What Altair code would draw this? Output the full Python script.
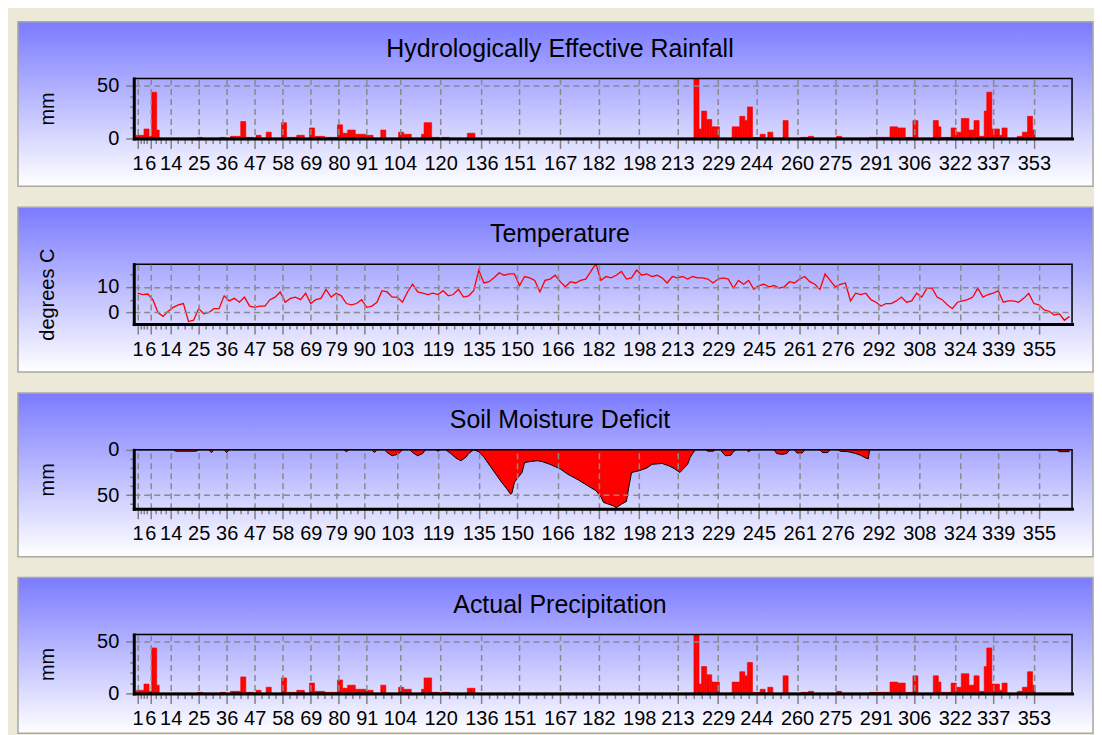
import altair as alt
import pandas as pd

FONT = "Liberation Sans"

# ---------------- data ----------------
rain_days = [1, 2, 3, 4, 5, 6, 7, 8, 9,
             25, 26, 34, 35,
             38, 39, 40, 41, 42, 43, 44, 45, 46, 48, 49,
             52, 53, 58, 59, 60, 61, 62, 63, 64, 65, 66, 69, 70,
             71, 72, 73, 74, 75, 76, 77, 78, 79, 80, 81, 82, 83, 84, 85, 86,
             87, 88, 89, 90, 91, 92, 93, 97, 98,
             104, 105, 106, 107, 108, 113, 114, 115, 116, 117, 118, 119, 121, 122, 123,
             131, 132, 133,
             220, 221, 222, 223, 224, 225, 226, 227, 228, 229,
             235, 236, 237, 238, 239, 240, 241, 242, 243, 244, 245, 246, 247, 249, 250,
             255, 256, 262, 263, 264, 265, 266, 276, 277,
             289, 290, 291, 292, 293, 294, 295, 296,
             297, 298, 299, 300, 301, 302, 303, 304, 305, 306, 307,
             314, 315, 316, 317, 318, 319, 320, 321, 322, 323, 324, 325, 326, 327, 328,
             329, 330, 331, 332, 333, 334, 335, 336, 337, 338, 339, 340, 341, 342,
             347, 348, 349, 350, 351, 352, 353]
rain_values = [3, 3, 3, 9, 9, 2, 44, 44, 8,
               1, 1, 1, 1,
               2, 2, 2, 2, 16, 16, 1, 1, 1, 3, 3,
               6, 6, 15, 15, 1, 1, 1, 1, 3, 3, 3, 10, 10,
               2, 2, 2, 2, 1, 1, 1, 1, 1, 13, 13, 5, 5, 8, 8, 8,
               4, 4, 4, 4, 3, 3, 3, 8, 8,
               6, 6, 4, 4, 4, 4, 15, 15, 15, 1, 1, 1, 1, 1, 1,
               5, 5, 5,
               60, 60, 9, 26, 26, 18, 18, 11, 11, 11,
               11, 11, 11, 21, 21, 17, 30, 30, 1, 1, 1, 4, 4, 6, 6,
               17, 17, 1, 1, 1, 2, 2, 2, 2,
               1, 1, 1, 1, 1, 1, 1, 1,
               11, 11, 11, 10, 10, 10, 1, 1, 1, 17, 17,
               17, 17, 11, 1, 1, 1, 1, 10, 10, 6, 6, 19, 19, 19, 8,
               8, 17, 17, 2, 2, 26, 44, 44, 9, 9, 9, 3, 10, 10,
               2, 2, 6, 6, 21, 21, 8]

# Actual precipitation reads identical to the effective rainfall
precip_days = list(rain_days)
precip_values = list(rain_values)

temp_days = list(range(1, 368, 2))
temp_values = [7.5, 7, 7.2, 5, 0, -1.5, 0.5, 2, 3, 3.5, -3.5, -3, 1.5, -0.5, 0, 1.5, 1.5,
               6.5, 4.5, 5.5, 4, 6, 2.5, 2, 2.5, 2.5, 5, 6, 8, 4, 5.5, 6, 5, 7.5, 3.5,
               5, 5.5, 9, 6, 7.5, 6.5, 3.5, 3, 3.5, 5, 2, 2.5, 4, 8.5, 8, 6, 6, 4, 8,
               11, 8, 7.5, 7, 7.5, 7, 8.5, 6.5, 7, 9, 6, 6.5, 8.5, 16.5, 11.5, 12,
               13.5, 15.5, 14.5, 15, 15, 10.5, 14, 13.5, 12.5, 8, 12.5, 13, 14.5, 12,
               10, 12, 11.5, 12.5, 13, 16, 19, 12.5, 14, 13.5, 14.5, 16, 13, 13.5,
               16.5, 14.5, 15, 14, 14.5, 13.5, 11.5, 14, 13.5, 14, 13, 14, 13.5, 13.5,
               13, 11.5, 13, 13.5, 13, 9.5, 12.5, 11, 12.5, 9, 10.5, 11, 10, 10.5, 9.5,
               10, 12, 11.5, 13, 14, 12, 11, 9, 15, 12.5, 10, 11, 11.5, 4.5, 7.5, 7,
               7.5, 5, 4, 2.5, 3.5, 3.5, 4.5, 6, 4, 4.5, 7.5, 6, 9.5, 9.5, 6, 5, 3,
               1.5, 4, 4.5, 5, 6, 9.5, 6, 7, 7.5, 8.5, 4, 4.5, 4.5, 4, 5.5, 7.5, 3.5,
               3, 1, 0.5, -1, -0.5, -3, -1.5]

smd_days = [1, 15, 16, 24, 25, 29, 30, 31, 35, 36, 37,
            82, 83, 84, 93, 94, 95,
            98, 99, 101, 103, 104, 105,
            108, 109, 111, 113, 114,
            118, 119, 120,
            122, 124, 126, 128, 130, 131, 133,
            135, 137, 140, 142, 144, 146, 147.5, 148, 149, 150, 152, 153, 155, 158,
            160, 163, 167, 170, 174, 178, 181, 183, 184, 186, 188, 189, 190, 191,
            193, 194, 195, 198, 201, 203, 207, 210, 212, 214, 215, 217, 218, 219, 220,
            224, 225, 227, 228, 230, 231, 232, 234, 235, 236,
            240, 241, 242, 251, 252, 254, 256, 257, 259, 260, 262, 263,
            269, 270, 272, 273, 276, 277, 280, 283, 285, 287, 288, 288.5,
            362, 363, 367]
smd_values = [0, 0, 1.5, 1.5, 0, 0, 3, 0, 0, 3, 0,
              0, 2, 0, 0, 3, 0,
              0, 3, 6.5, 5, 3, 0,
              0, 3, 6.5, 4, 0,
              0, 1.5, 0,
              0, 4, 9, 12, 8, 4, 0,
              2, 8, 20, 28, 36, 43, 49, 48, 36, 32, 25, 14, 13, 12,
              13, 16, 21, 27, 33, 40, 45, 52, 58, 60, 62, 64, 62, 60,
              57, 40, 25, 23, 20, 16, 15, 18, 21, 25, 22, 16, 8.5, 4, 0,
              0, 1.5, 1.5, 0, 0, 4, 6.5, 6, 2, 0,
              0, 2, 0, 0, 4, 5, 4, 0, 0, 3.5, 3.5, 0,
              0, 3, 3, 0, 0, 1.5, 2, 4, 6, 9, 10, 0,
              0, 2, 2]

rain_ticks = [1, 6, 14, 25, 36, 47, 58, 69, 80, 91, 104, 120, 136, 151, 167, 182,
              198, 213, 229, 244, 260, 275, 291, 306, 322, 337, 353]
temp_ticks = [1, 6, 14, 25, 36, 47, 58, 69, 79, 90, 103, 119, 135, 150, 166, 182,
              198, 213, 229, 245, 261, 276, 292, 308, 324, 339, 355]

titles = ["Hydrologically Effective Rainfall", "Temperature",
          "Soil Moisture Deficit", "Actual Precipitation"]

# ---------------- layout ----------------
W = 940
X_DOMAIN = [-0.5, 368]
GRAD = alt.LinearGradient(gradient="linear", x1=0, x2=0, y1=0, y2=1,
                          stops=[alt.GradientStop(color="#7b7bff", offset=0),
                                 alt.GradientStop(color="#ffffff", offset=1)])
bgdf = pd.DataFrame({"k": [0]})


def minor_ticks(majors):
    vals = []
    for a, b in zip(majors[:-1], majors[1:]):
        n = 4 if b - a < 14 else 5
        vals += [a + (b - a) * k / n for k in range(1, n)]
    return vals


def arr(v):
    return "[" + ",".join(str(x) for x in v) + "]"


def x_axis(majors):
    test = f"indexof({arr(majors)}, datum.value) >= 0"
    return alt.Axis(values=majors + minor_ticks(majors),
                    labelExpr=f"{test} ? datum.label : ''",
                    tickSize={"condition": {"test": test, "value": 10}, "value": 5},
                    gridOpacity={"condition": {"test": test, "value": 1}, "value": 0},
                    grid=True, labelPadding=5, zindex=1)


def y_axis(values, labels, grids, title, h):
    lt = f"indexof({arr(labels)}, datum.value) >= 0"
    gt = f"indexof({arr(grids)}, datum.value) >= 0"
    return alt.Axis(values=values, labelExpr=f"{lt} ? datum.label : ''",
                    tickSize={"condition": {"test": lt, "value": 8}, "value": 4},
                    gridOpacity={"condition": {"test": gt, "value": 1}, "value": 0},
                    grid=True, labelPadding=7, zindex=1,
                    title=title, titleX=-86, titleY=h / 2, titleAngle=270,
                    titleAlign="center", titleBaseline="middle")


def panel(marks, h, title, bottom):
    bg = alt.Chart(bgdf).mark_rect(fill=GRAD, stroke="#a9a8a2", strokeWidth=1.5).encode(
        x=alt.value(-116), x2=alt.value(W + 21), y=alt.value(-57), y2=alt.value(h + bottom))
    border = alt.Chart(bgdf).mark_rect(fillOpacity=0, stroke="black", strokeWidth=1.5).encode(
        x=alt.value(0), x2=alt.value(W), y=alt.value(0), y2=alt.value(h))
    head = alt.Chart(bgdf).mark_text(
        font=FONT, fontSize=25, color="black", align="center", baseline="alphabetic"
    ).encode(text=alt.value(title), x=alt.value(W / 2 - 43), y=alt.value(-22))
    return alt.layer(bg, *marks, border, head).properties(width=W, height=h)


def xscale():
    return alt.Scale(domain=X_DOMAIN, nice=False, zero=False)


def bar_panel(days, values, h, title, bottom):
    df = pd.DataFrame({"day": days, "mm": values})
    bars = alt.Chart(df).transform_calculate(
        x0="datum.day - 0.5", x1="datum.day + 0.5"
    ).mark_rect(color="#ff0000", stroke="#ff0000", strokeWidth=0.6, clip=True).encode(
        x=alt.X("x0:Q", scale=xscale(), axis=x_axis(rain_ticks), title=None),
        x2="x1:Q",
        y=alt.Y("mm:Q", scale=alt.Scale(domain=[0, 57], nice=False),
                axis=y_axis([0, 10, 20, 30, 40, 50], [0, 50], [50], "mm", h)),
        y2=alt.datum(0),
    )
    return panel([bars], h, title, bottom)


p1 = bar_panel(rain_days, rain_values, 60, titles[0], 48)

tdf = pd.DataFrame({"day": temp_days, "t": temp_values})
tline = alt.Chart(tdf).mark_line(color="#ff0000", strokeWidth=1.3, clip=True).encode(
    x=alt.X("day:Q", scale=xscale(), axis=x_axis(temp_ticks), title=None),
    y=alt.Y("t:Q", scale=alt.Scale(domain=[-4.5, 18.8], nice=False, zero=False),
            axis=y_axis([0, 5, 10, 15], [0, 10], [0, 10], "degrees C", 60)),
)
p2 = panel([tline], 60, titles[1], 48)

sdf = pd.DataFrame({"day": smd_days, "d": smd_values})
sarea = alt.Chart(sdf).mark_area(
    color="#ff0000", opacity=1, clip=True,
    line=alt.OverlayMarkDef(color="black", strokeWidth=1)
).encode(
    x=alt.X("day:Q", scale=xscale(), axis=x_axis(temp_ticks), title=None),
    y=alt.Y("d:Q", scale=alt.Scale(domain=[0, 65], nice=False, reverse=True),
            axis=y_axis([0, 10, 20, 30, 40, 50, 60], [0, 50], [50], "mm", 59)),
)
p3 = panel([sarea], 59, titles[2], 48)

p4 = bar_panel(precip_days, precip_values, 59, titles[3], 40)

chart = alt.vconcat(p1, p2, p3, p4, spacing=19).properties(
    padding={"left": 9, "top": 12, "right": 0, "bottom": 0},
    background="#ECE9D8",
).configure_view(strokeWidth=0).configure_axis(
    domainColor="black", domainWidth=3, domainCap="square",
    labelFont=FONT, labelFontSize=20, labelColor="black",
    tickColor="#808080", tickWidth=1.5,
    gridColor="#8a8a8a", gridDash=[6, 4], gridWidth=1.5,
    labelOverlap=False, labelFlush=False, labelBound=False,
    titleFont=FONT, titleFontSize=20, titleFontWeight="normal", titleColor="black",
)

chart.save("out.html", embed_options={"renderer": "svg", "actions": False})
